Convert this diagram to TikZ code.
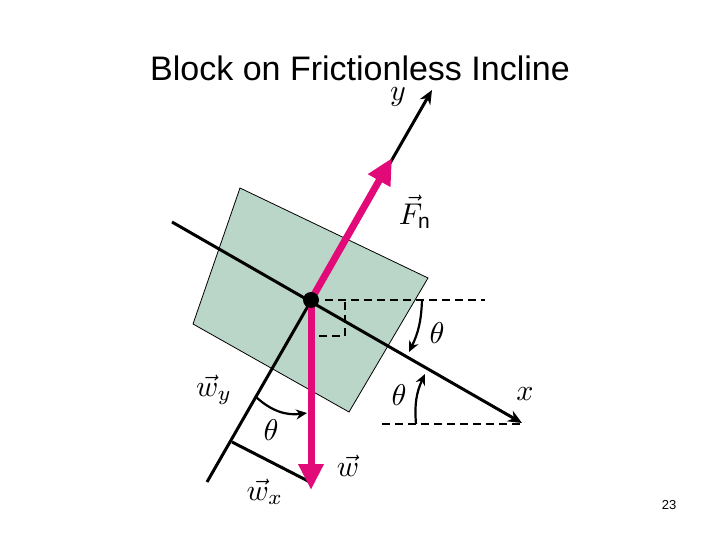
\documentclass[tikz,border=0pt]{standalone}
\usepackage{fontspec}
\setmainfont{Liberation Sans}
\newfontfamily\serifm{Liberation Serif}
\usetikzlibrary{arrows.meta}
\definecolor{blk}{RGB}{186,214,200}
\definecolor{mag}{RGB}{225,10,120}
\tikzset{
 axis/.style={line width=3pt,-{Stealth[length=14pt,width=12pt]}},
 force/.style={mag,line width=7pt,-{Triangle[length=26pt,width=24pt]}},
 dsh/.style={line width=2.6pt,dash pattern=on 8pt off 5pt},
 arc/.style={line width=2.2pt,-{Stealth[length=11pt,width=10pt]}},
 lab/.style={inner sep=0pt},
}
\newcommand{\bigmath}[1]{\scalebox{3}{$#1$}}
\begin{document}
\begin{tikzpicture}[x=1pt,y=-1pt]
\useasboundingbox (0,0) rectangle (720,540);
\node[font=\fontsize{34}{34}\selectfont] (title) at (360,68) {Block on Frictionless Incline};
\node[font=\fontsize{13}{13}\selectfont] (pg) at (669,505) {23};
\draw[fill=blk,line width=0.8pt] (240,188) -- (428,278) -- (349,412) -- (193,324) -- cycle;
\coordinate (c) at (311,300);
\coordinate (xs) at (172,222); \coordinate (xe) at (522,423);
\coordinate (ys) at (207,482); \coordinate (ye) at (432,90);
\draw[axis] (xs) -- (xe);
\draw[axis] (ys) -- (ye);
\coordinate (wx1) at (232,442); \coordinate (wx2) at (310,482);
\draw[line width=3pt] (wx1) -- (wx2);
\draw[dsh] (325,300) -- (485,300);
\draw[dsh] (345,302) -- (345,336) -- (315,336);
\draw[dsh] (382,424) -- (522,424);
\draw[arc] (422,300) to[bend left=12] (409,352);
\draw[arc] (416,424) to[bend left=15] (425,374);
\draw[arc] (256,397) to[bend left=-25] (307,413);
\coordinate (fnt) at (392,158); \coordinate (wt) at (311,490);
\draw[force] (c) -- (fnt);
\draw[force] (c) -- (wt);
\fill (c) circle (8pt);
\node[lab] (x) at (525,394) {\bigmath{x}};
\node[lab] (y) at (398,97) {\bigmath{y}};
\node[lab] (t1) at (437,333) {\bigmath{\theta}};
\node[lab] (t2) at (399,395) {\bigmath{\theta}};
\node[lab] (t3) at (271,430) {\bigmath{\theta}};
\node[lab] (fn) at (415,212) {\bigmath{\vec{F}_{\mathrm{n}}}};
\node[lab] (w) at (348,466) {\bigmath{\vec{w}}};
\node[lab] (wy) at (214,390) {\bigmath{\vec{w}_y}};
\node[lab] (wxl) at (265,492) {\bigmath{\vec{w}_x}};
\end{tikzpicture}
\end{document}
